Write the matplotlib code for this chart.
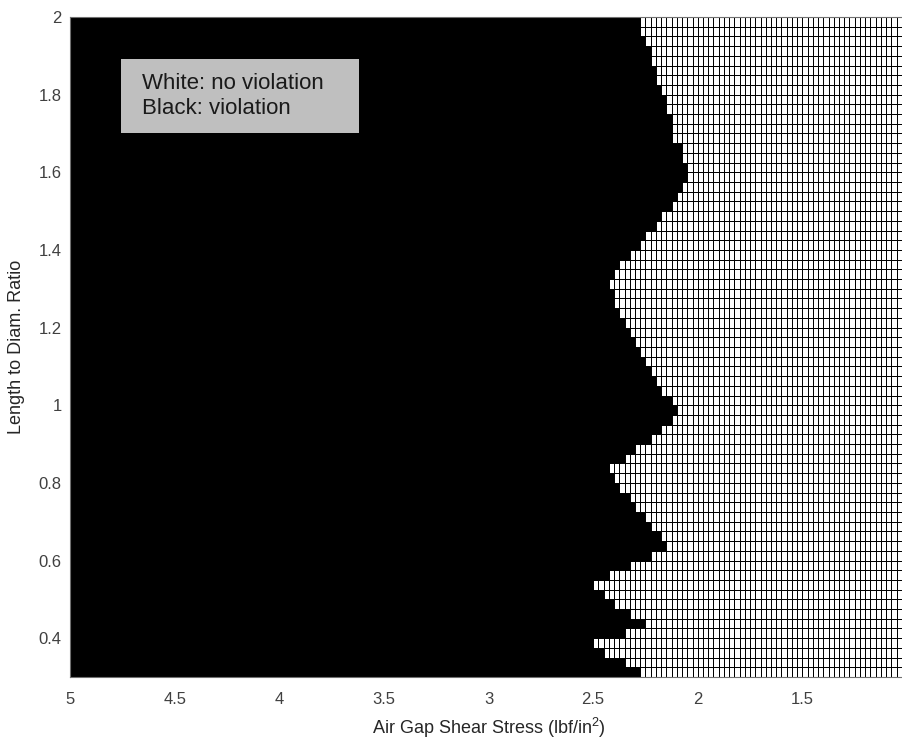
import numpy as np
import matplotlib
matplotlib.use('Agg')
import matplotlib.pyplot as plt
from matplotlib.colors import ListedColormap
from matplotlib.patches import Rectangle

plt.rcParams['font.family'] = ['Liberation Sans', 'DejaVu Sans']
plt.rcParams['mathtext.fontset'] = 'custom'
plt.rcParams['mathtext.rm'] = 'Liberation Sans'
plt.rcParams['mathtext.it'] = 'Liberation Sans:italic'

# design grid: shear stress (lbf/in^2) and length-to-diameter ratio
stress_min, stress_max, stress_step = 1.0, 5.0, 0.025
ratio_min, ratio_max, ratio_step = 0.3, 2.0, 0.025

# shear stress above which the constraint is violated, one value per L/D row (bottom to top)
limit_stress = [2.275, 2.35, 2.45, 2.5, 2.35, 2.25, 2.325, 2.4,
                2.45, 2.5, 2.425, 2.325, 2.225, 2.15, 2.175, 2.225,
                2.25, 2.3, 2.325, 2.375, 2.4, 2.425, 2.35, 2.3,
                2.225, 2.175, 2.125, 2.1, 2.125, 2.175, 2.2, 2.225,
                2.25, 2.275, 2.3, 2.325, 2.35, 2.375, 2.4, 2.4,
                2.425, 2.4, 2.375, 2.325, 2.275, 2.25, 2.2, 2.175,
                2.125, 2.1, 2.075, 2.05, 2.05, 2.075, 2.075, 2.125,
                2.125, 2.125, 2.15, 2.15, 2.175, 2.2, 2.2, 2.225,
                2.225, 2.25, 2.275, 2.275]

xe = np.arange(stress_min, stress_max + stress_step / 2, stress_step)
ye = np.arange(ratio_min, ratio_max + ratio_step / 2, ratio_step)
xc = 0.5 * (xe[:-1] + xe[1:])
lim = np.array(limit_stress)
viol = (xc[None, :] > lim[:, None]).astype(float)

fig = plt.figure(figsize=(9.02, 7.4), dpi=100)
ax = fig.add_axes([70 / 902, 63 / 740, 837 / 902, 660 / 740])

cmap = ListedColormap(['white', 'black'])
ax.pcolormesh(xe, ye, viol, cmap=cmap, vmin=0, vmax=1,
              edgecolors='k', linewidth=0.65)

ax.set_xlim(5, 1)
ax.set_ylim(0.3, 2)
ax.set_xticks([5, 4.5, 4, 3.5, 3, 2.5, 2, 1.5])
ax.set_xticklabels(['5', '4.5', '4', '3.5', '3', '2.5', '2', '1.5'])
ax.set_yticks([0.4, 0.6, 0.8, 1, 1.2, 1.4, 1.6, 1.8, 2])
ax.set_yticklabels(['0.4', '0.6', '0.8', '1', '1.2', '1.4', '1.6', '1.8', '2'])
ax.tick_params(axis='x', length=0, pad=11, labelsize=12, labelcolor='#404040')
ax.tick_params(axis='y', length=0, pad=6, labelsize=12, labelcolor='#404040')
for s in ax.spines.values():
    s.set_color('#707070')
    s.set_linewidth(0.8)

ax.set_xlabel(r'Air Gap Shear Stress (lbf/in$^2$)', fontsize=13, color='#262626', labelpad=6)
ax.set_ylabel('Length to Diam. Ratio', fontsize=13, color='#262626', labelpad=10)

# annotation box
fig.add_artist(Rectangle((121 / 902, 1 - 133 / 740), 238 / 902, 74 / 740,
                         transform=fig.transFigure, facecolor='#bfbfbf',
                         edgecolor='none', zorder=5))
fig.text(142 / 902, 1 - 96 / 740, 'White: no violation\nBlack: violation',
         fontsize=16, color='#1a1a1a', va='center', ha='left',
         linespacing=1.25, zorder=6)

plt.savefig('out.png', dpi=100)
